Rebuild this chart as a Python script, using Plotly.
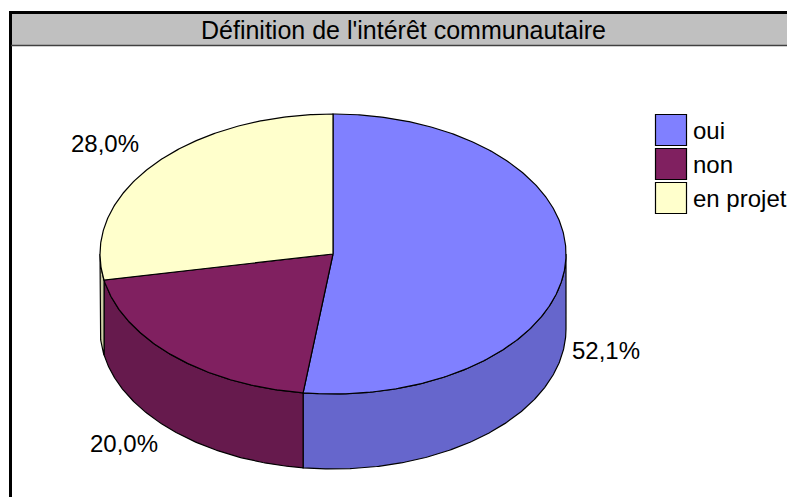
import numpy as np
import plotly.graph_objects as go

# ---- data ----
title_text = "Définition de l'intérêt communautaire"
categories = ["oui", "non", "en projet"]
values = [52.1, 20.0, 28.0]

# ---- style ----
top_colors = ["#8080FF", "#802060", "#FFFFCC"]
side_colors = ["#6666CC", "#661A4D", "#CCCCA3"]
FONT = "Liberation Sans, Arial, sans-serif"
W, H = 787, 497

# 3D pie geometry (pixel space)
CX, CY, RX, RY, DEPTH = 333, 254, 233, 140, 75


def rim(theta_deg, dy=0.0):
    t = np.radians(theta_deg)
    return CX + RX * np.sin(t), CY - RY * np.cos(t) + dy


def arc(a, b, dy=0.0):
    n = max(4, int(abs(b - a) * 2))
    th = np.linspace(a, b, n)
    x, y = rim(th, dy)
    return list(x), list(y)


total = float(sum(values))
bounds = []
acc = 0.0
for v in values:
    a = acc / total * 360.0
    acc += v
    b = acc / total * 360.0
    bounds.append((a, b))

fig = go.Figure()

# side walls (visible front half: 90..270 deg)
for i, (a, b) in enumerate(bounds):
    lo, hi = max(a, 90.0), min(b, 270.0)
    if lo < hi:
        xt, yt = arc(lo, hi)
        xb, yb = arc(hi, lo, DEPTH)
        fig.add_trace(go.Scatter(
            x=xt + xb + [xt[0]], y=yt + yb + [yt[0]],
            mode="lines", fill="toself", fillcolor=side_colors[i],
            line=dict(color="black", width=1.2), hoverinfo="skip",
            showlegend=False))

# top faces
for i, (a, b) in enumerate(bounds):
    xa, ya = arc(a, b)
    fig.add_trace(go.Scatter(
        x=[CX] + xa + [CX], y=[CY] + ya + [CY],
        mode="lines", fill="toself", fillcolor=top_colors[i],
        line=dict(color="black", width=1.2),
        name=categories[i], text=categories[i], hoverinfo="text",
        showlegend=False))

annotations = []
# data labels (outside end)
for i, (a, b) in enumerate(bounds):
    m = (a + b) / 2.0
    s, c = np.sin(np.radians(m)), np.cos(np.radians(m))
    front = c < 0
    px, py = rim(m, DEPTH if front else 0.0)
    gx = 4 if s >= 0 else -13
    gy = -3 if front else -6
    lab = f"{values[i]:.1f}%".replace(".", ",")
    annotations.append(dict(
        x=px + gx, y=py + gy, xref="x", yref="y", text=lab, showarrow=False,
        xanchor="left" if s >= 0 else "right",
        yanchor="top" if front else "bottom",
        font=dict(family=FONT, size=24, color="black")))

# title
annotations.append(dict(
    x=403.5, y=29.5, xref="x", yref="y", text=title_text, showarrow=False,
    xanchor="center", yanchor="middle",
    font=dict(family=FONT, size=25, color="black")))

shapes = [
    dict(type="rect", x0=11, y0=13, x1=W + 5, y1=45, fillcolor="#C0C0C0",
         line=dict(width=0), layer="below"),
    dict(type="line", x0=9, y0=12.5, x1=W + 5, y1=12.5,
         line=dict(color="black", width=3)),
    dict(type="line", x0=10.5, y0=11, x1=10.5, y1=H + 5,
         line=dict(color="black", width=3)),
    dict(type="line", x0=11, y0=45.5, x1=W + 5, y1=45.5,
         line=dict(color="#404040", width=1.5)),
]

# legend (manual, large swatches)
LX, LY, LS, LP = 655.5, 114.5, 31, 34
for i, cat in enumerate(categories):
    y0 = LY + i * LP
    shapes.append(dict(type="rect", x0=LX, x1=LX + LS, y0=y0, y1=y0 + LS,
                       fillcolor=top_colors[i], line=dict(color="black", width=1.2)))
    annotations.append(dict(
        x=LX + LS + 4, y=y0 + LS / 2, xref="x", yref="y", text=cat,
        showarrow=False, xanchor="left", yanchor="middle",
        font=dict(family=FONT, size=24, color="black")))

fig.update_layout(
    width=W, height=H, autosize=False,
    margin=dict(l=0, r=0, t=0, b=0),
    paper_bgcolor="white", plot_bgcolor="white",
    xaxis=dict(range=[0, W], visible=False, fixedrange=True),
    yaxis=dict(range=[H, 0], visible=False, fixedrange=True),
    shapes=shapes, annotations=annotations, showlegend=False,
)

fig.write_html(
    "out.html",
    config={"displayModeBar": False},
    post_script="document.body.style.margin='0';document.body.style.overflow='hidden';",
)
